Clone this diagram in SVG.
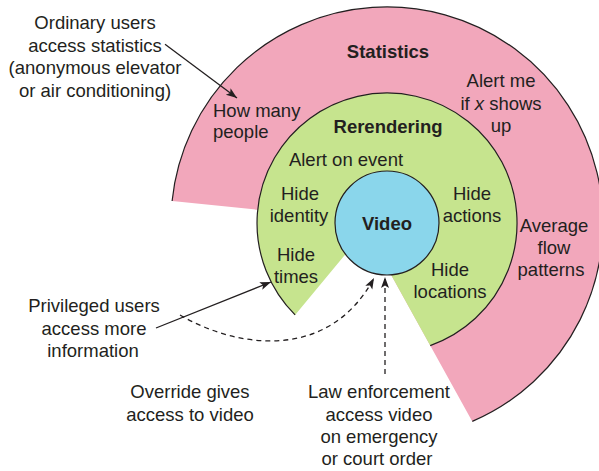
<svg xmlns="http://www.w3.org/2000/svg" width="599" height="471" viewBox="0 0 599 471">
  <style>
    text { font-family: "Liberation Sans", Arial, sans-serif; font-size: 18.5px; fill: #231f20; text-anchor: middle; }
    .title { font-weight: bold; }
    .left { text-anchor: start; }
    .ring { stroke: #231f20; stroke-width: 1.2; fill: none; }
    .conn { stroke: #231f20; stroke-width: 1.3; fill: none; }
    .dash { stroke-dasharray: 5 4; }
  </style>
  <defs>
    <marker id="arrow" markerUnits="userSpaceOnUse" markerWidth="12" markerHeight="9" refX="11" refY="4" orient="auto">
      <path d="M0,0 L11,4 L0,8 L2.5,4 Z" fill="#231f20"/>
    </marker>
  </defs>
  <rect width="599" height="471" fill="#ffffff"/>

  <!-- Outer ring: statistics -->
  <g id="statistics">
    <path d="M172.1,201 A216,216 0 1 1 472.3,421.4 L366,229.5 L387,223 Z" fill="#f2a7bb"/>
    <path class="ring" d="M172.1,201 A216,216 0 1 1 472.3,421.4"/>
    <text class="title" x="388" y="58">Statistics</text>
    <text class="left" x="213" y="117">How many</text>
    <text class="left" x="213" y="138">people</text>
    <text x="501" y="87">Alert me</text>
    <text x="501" y="110">if <tspan font-style="italic">x</tspan> shows</text>
    <text x="501" y="132">up</text>
    <text x="554" y="232">Average</text>
    <text x="554" y="254">flow</text>
    <text x="551" y="276">patterns</text>
  </g>

  <!-- Middle ring: rerendering -->
  <g id="rerendering">
    <path d="M295.1,314.9 A130,130 0 1 1 430.2,345.6 L366,229.5 Z" fill="#c6e48e"/>
    <path class="ring" d="M295.1,314.9 A130,130 0 1 1 430.2,345.6"/>
    <text class="title" x="388" y="133">Rerendering</text>
    <text x="346" y="166">Alert on event</text>
    <text x="300" y="200">Hide</text>
    <text x="299" y="222">identity</text>
    <text x="296" y="261">Hide</text>
    <text x="296" y="283">times</text>
    <text x="472" y="200">Hide</text>
    <text x="472" y="222">actions</text>
    <text x="450" y="276">Hide</text>
    <text x="450" y="298">locations</text>
  </g>

  <!-- Core: video -->
  <g id="video">
    <circle cx="387" cy="223" r="52" fill="#8ad6eb" stroke="#231f20" stroke-width="1.2"/>
    <text class="title" x="387" y="230">Video</text>
  </g>

  <!-- Access notes -->
  <g id="ordinary-users">
    <text x="95" y="29">Ordinary users</text>
    <text x="95" y="52">access statistics</text>
    <text x="95" y="74">(anonymous elevator</text>
    <text x="95" y="97">or air conditioning)</text>
  </g>
  <g id="privileged-users">
    <text x="94" y="312">Privileged users</text>
    <text x="94" y="335">access more</text>
    <text x="93" y="357">information</text>
  </g>
  <g id="override">
    <text x="190" y="398">Override gives</text>
    <text x="190" y="421">access to video</text>
  </g>
  <g id="law-enforcement">
    <text x="379" y="398">Law enforcement</text>
    <text x="379" y="421">access video</text>
    <text x="379" y="443">on emergency</text>
    <text x="377" y="465">or court order</text>
  </g>

  <!-- Connectors -->
  <g id="connectors">
    <path class="conn" d="M165,44.3 L237,98" marker-end="url(#arrow)"/>
    <path class="conn" d="M156,328 L271,282" marker-end="url(#arrow)"/>
    <path class="conn dash" d="M180,315 C240,350 330,360 374,278" marker-end="url(#arrow)"/>
    <path class="conn dash" d="M385,374 L385,277" marker-end="url(#arrow)"/>
  </g>
</svg>
